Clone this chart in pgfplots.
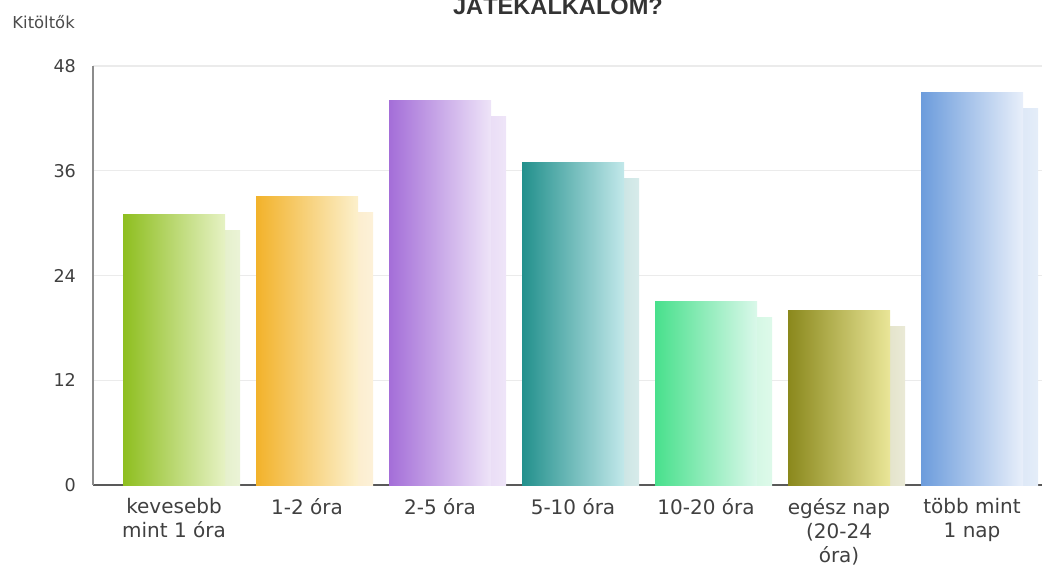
\documentclass[border=0pt]{standalone}
\usepackage{pgfplots}
\pgfplotsset{compat=1.18}
\usepackage{fontspec}
\setmainfont{DejaVu Sans}
\newfontfamily\titlefont{Liberation Sans}

\definecolor{c1a}{HTML}{8EBE1F}
\definecolor{c1b}{HTML}{E6F2C4}
\definecolor{c2a}{HTML}{F2B22A}
\definecolor{c2b}{HTML}{FCF0CC}
\definecolor{c3a}{HTML}{A46ED8}
\definecolor{c3b}{HTML}{EEE4F8}
\definecolor{c4a}{HTML}{22908C}
\definecolor{c4b}{HTML}{C2E8EA}
\definecolor{c5a}{HTML}{48E08C}
\definecolor{c5b}{HTML}{DAF8EA}
\definecolor{c6a}{HTML}{8A881C}
\definecolor{c6b}{HTML}{EAE698}
\definecolor{c7a}{HTML}{6C9CDC}
\definecolor{c7b}{HTML}{E8EFFA}

\pgfplotsset{
  shadowbar/.style={ybar, bar width=51pt, bar shift=7.5pt, yshift=-8pt,
    draw=none, left color=#1!50, right color=#1!18},
  mainbar/.style 2 args={ybar, bar width=51pt, bar shift=0pt,
    draw=none, left color=#1, right color=#2},
}

\begin{document}
\begin{tikzpicture}
\path[use as bounding box] (0,0) rectangle (521pt,287pt);

\node[font=\titlefont\bfseries\fontsize{11.8}{13}\selectfont, text=black!80,
  anchor=base] at (279pt,279.5pt) {JÁTÉKALKALOM?};
\node[font=\fontsize{8.2}{9}\selectfont, text=black!70] at (21.8pt,276pt) {Kitöltők};

\begin{axis}[
  at={(46.5pt,44.5pt)}, anchor=south west,
  scale only axis, width=474.5pt, height=209.5pt,
  xmin=-0.609, xmax=6.526, ymin=0, ymax=48,
  axis lines*=left,
  x axis line style={draw=black!65, line width=0.7pt},
  y axis line style={draw=black!45, line width=0.6pt},
  ytick={0,12,24,36,48},
  xtick={0,...,6},
  xticklabels={{kevesebb\\mint 1 óra},{1-2 óra},{2-5 óra},{5-10 óra},
    {10-20 óra},{egész nap\\(20-24\\óra)},{több mint\\1 nap}},
  major tick length=0pt,
  ymajorgrids,
  grid style={draw=black!8, line width=0.6pt},
  tick label style={text=black!75},
  /pgf/number format/assume math mode=true,
  yticklabel style={font=\fontsize{8.8}{10}\selectfont, xshift=-5pt},
  xticklabel style={font=\fontsize{10}{12}\selectfont, align=center, yshift=-3pt},
]
% shadows
\addplot[shadowbar=c1a] coordinates {(0,31)};
\addplot[shadowbar=c2a] coordinates {(1,33)};
\addplot[shadowbar=c3a] coordinates {(2,44)};
\addplot[shadowbar=c4a] coordinates {(3,37)};
\addplot[shadowbar=c5a] coordinates {(4,21)};
\addplot[shadowbar=c6a] coordinates {(5,20)};
\addplot[shadowbar=c7a] coordinates {(6,45)};
% bars
\addplot[mainbar={c1a}{c1b}] coordinates {(0,31)};
\addplot[mainbar={c2a}{c2b}] coordinates {(1,33)};
\addplot[mainbar={c3a}{c3b}] coordinates {(2,44)};
\addplot[mainbar={c4a}{c4b}] coordinates {(3,37)};
\addplot[mainbar={c5a}{c5b}] coordinates {(4,21)};
\addplot[mainbar={c6a}{c6b}] coordinates {(5,20)};
\addplot[mainbar={c7a}{c7b}] coordinates {(6,45)};
\end{axis}
\end{tikzpicture}
\end{document}
